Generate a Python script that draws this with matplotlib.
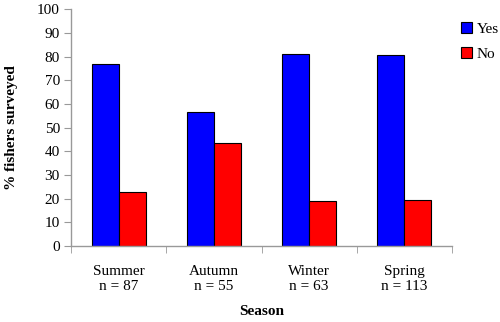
import matplotlib
matplotlib.use("Agg")
import matplotlib.pyplot as plt
import numpy as np

seasons = ["Summer", "Autumn", "Winter", "Spring"]
n_values = [87, 55, 63, 113]
yes_values = [77, 56.5, 81, 80.5]
no_values = [23, 43.5, 19, 19.5]

plt.rcParams['font.family'] = ['Liberation Serif', 'DejaVu Serif']

fig = plt.figure(figsize=(5, 3.22), dpi=100)
ax = fig.add_axes([0.142, 0.236, 0.762, 0.735])

x = np.arange(len(seasons))
w = 0.284
ax.bar(x - w/2, yes_values, w, color='#0000ff', edgecolor='black', linewidth=0.8, label='Yes')
ax.bar(x + w/2, no_values, w, color='#ff0000', edgecolor='black', linewidth=0.8, label='No')

ax.set_xlim(-0.5, len(seasons) - 0.5)
ax.set_ylim(0, 100)
ax.set_yticks(range(0, 101, 10))
ax.set_xticks(x)
ax.set_xticklabels([f"{s}\nn = {n}" for s, n in zip(seasons, n_values)], fontsize=11, linespacing=1.15)
ax.set_xticks(np.arange(-0.5, len(seasons), 1.0), minor=True)
ax.tick_params(axis='x', which='major', length=0, pad=14)
ax.tick_params(axis='x', which='minor', length=5, color='#999999', direction='out')
ax.tick_params(axis='y', length=5, color='#999999', direction='out', labelsize=11, pad=3)

for s in ['top', 'right']:
    ax.spines[s].set_visible(False)
for s in ['left', 'bottom']:
    ax.spines[s].set_color('#999999')
    ax.spines[s].set_linewidth(1.0)

ax.set_ylabel('% fishers surveyed', fontweight='bold', fontsize=11, labelpad=14)
ax.set_xlabel('Season', fontweight='bold', fontsize=11, labelpad=9)

leg = ax.legend(loc='upper left', bbox_to_anchor=(1.0, 0.985), frameon=False,
                fontsize=11, handlelength=0.7, handleheight=0.7, handletextpad=0.3,
                labelspacing=0.75, borderaxespad=0.2)

fig.savefig('out.png', dpi=100)
